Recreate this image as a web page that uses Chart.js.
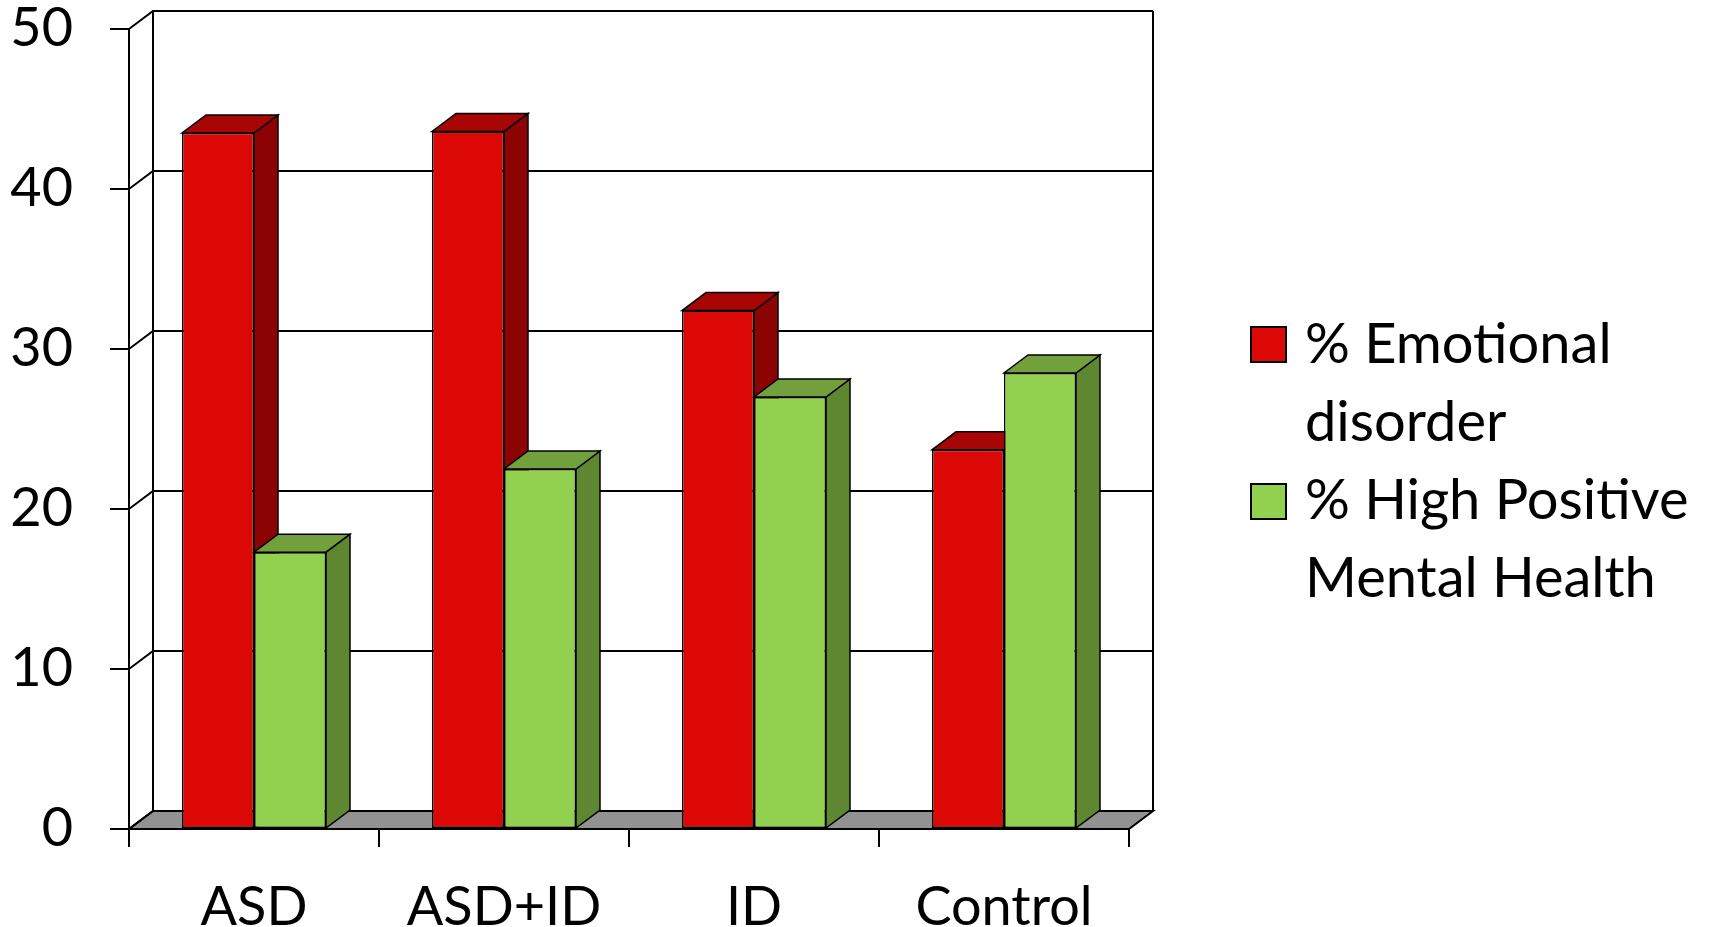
<!DOCTYPE html>
<html>
<head>
<meta charset="utf-8">
<script src="https://cdn.jsdelivr.net/npm/chart.js@4"></script>
<style>
  html, body { margin: 0; padding: 0; background: #fff; }
  #wrap { width: 1713px; height: 927px; }
</style>
</head>
<body>
<div id="wrap"><canvas id="chart" width="1713" height="927"></canvas></div>
<script>
const groups = ['ASD', 'ASD+ID', 'ID', 'Control'];
const emotional = [43.5, 43.6, 32.4, 23.7];
const positive = [17.3, 22.5, 27.0, 28.5];
const yTicks = [0, 10, 20, 30, 40, 50];
const legendLines = [['% Emotional', 'disorder'], ['% High Positive', 'Mental Health']];

const FONT = 'Lato, "DejaVu Sans", sans-serif';
const depthX = 24, depthY = 18;

const faces = [
  { front: '#DC0806', top: '#A80505', side: '#8C0303' },
  { front: '#92D050', top: '#71A03C', side: '#5F8732' }
];

// back wall, floor and the top/side faces of the columns
const threeD = {
  id: 'threeD',
  beforeDatasetsDraw(chart) {
    const ctx = chart.ctx;
    const a = chart.chartArea;
    const y = chart.scales.y;
    ctx.save();
    ctx.lineWidth = 2;
    ctx.strokeStyle = '#000';
    ctx.lineJoin = 'miter';

    // floor
    ctx.beginPath();
    ctx.moveTo(a.left, a.bottom);
    ctx.lineTo(a.right, a.bottom);
    ctx.lineTo(a.right + depthX, a.bottom - depthY);
    ctx.lineTo(a.left + depthX, a.bottom - depthY);
    ctx.closePath();
    ctx.fillStyle = '#929292';
    ctx.fill();
    ctx.stroke();

    // gridlines on back wall + diagonals on side wall
    yTicks.forEach(v => {
      const py = y.getPixelForValue(v);
      ctx.beginPath();
      ctx.moveTo(a.left, py);
      ctx.lineTo(a.left + depthX, py - depthY);
      ctx.lineTo(a.right + depthX, py - depthY);
      ctx.stroke();
    });
    ctx.beginPath();
    ctx.moveTo(a.left + depthX, a.bottom - depthY);
    ctx.lineTo(a.left + depthX, a.top - depthY);
    ctx.moveTo(a.right + depthX, a.bottom - depthY);
    ctx.lineTo(a.right + depthX, a.top - depthY);
    ctx.moveTo(a.left, a.bottom);
    ctx.lineTo(a.left, a.top);
    ctx.stroke();

    // column sides and tops
    ctx.lineWidth = 1.5;
    chart.data.datasets.forEach((ds, i) => {
      const meta = chart.getDatasetMeta(i);
      meta.data.forEach(bar => {
        const x0 = bar.x - bar.width / 2, x1 = bar.x + bar.width / 2;
        const top = bar.y, base = bar.base;
        ctx.beginPath();
        ctx.moveTo(x1, top);
        ctx.lineTo(x1 + depthX, top - depthY);
        ctx.lineTo(x1 + depthX, base - depthY);
        ctx.lineTo(x1, base);
        ctx.closePath();
        ctx.fillStyle = faces[i].side;
        ctx.fill();
        ctx.stroke();

        ctx.beginPath();
        ctx.moveTo(x0, top);
        ctx.lineTo(x1, top);
        ctx.lineTo(x1 + depthX, top - depthY);
        ctx.lineTo(x0 + depthX, top - depthY);
        ctx.closePath();
        ctx.fillStyle = faces[i].top;
        ctx.fill();
        ctx.stroke();
      });
    });
    ctx.restore();
  },
  afterDraw(chart) {
    const ctx = chart.ctx;
    ctx.save();
    ctx.font = '56px ' + FONT;
    ctx.fillStyle = '#000';
    ctx.textBaseline = 'alphabetic';
    ctx.textAlign = 'left';
    const boxY = [327, 484];
    const baseY = [363, 519];
    legendLines.forEach((lines, i) => {
      ctx.fillStyle = faces[i].front;
      ctx.fillRect(1251, boxY[i], 35, 35);
      ctx.lineWidth = 2;
      ctx.strokeStyle = '#000';
      ctx.strokeRect(1251, boxY[i], 35, 35);
      ctx.fillStyle = '#000';
      lines.forEach((t, j) => ctx.fillText(t, 1305, baseY[i] + j * 77.5));
    });
    ctx.restore();
  }
};

new Chart(document.getElementById('chart'), {
  type: 'bar',
  data: {
    labels: groups,
    datasets: [
      {
        label: legendLines[0].join(' '),
        data: emotional,
        backgroundColor: faces[0].front,
        borderColor: '#000',
        borderWidth: 1.5,
        borderSkipped: false
      },
      {
        label: legendLines[1].join(' '),
        data: positive,
        backgroundColor: faces[1].front,
        borderColor: '#000',
        borderWidth: 1.5,
        borderSkipped: false
      }
    ]
  },
  options: {
    responsive: false,
    animation: false,
    layout: { padding: { left: 0, right: 584, top: 29, bottom: 0 } },
    categoryPercentage: 0.576,
    barPercentage: 1,
    plugins: { legend: { display: false }, tooltip: { enabled: false } },
    scales: {
      x: {
        grid: { offset: true, drawOnChartArea: false, tickLength: 18, color: '#000', lineWidth: 2 },
        border: { color: '#000', width: 2 },
        ticks: { color: '#000', font: { family: FONT, size: 54 }, padding: 28, maxRotation: 0 },
        afterFit(s) { s.height = 98; s.paddingLeft = 0; s.paddingRight = 0; }
      },
      y: {
        min: 0,
        max: 50,
        ticks: { stepSize: 10, color: '#000', font: { family: FONT, size: 54 }, padding: 37 },
        grid: { drawOnChartArea: false, tickLength: 19, color: '#000', lineWidth: 2 },
        border: { color: '#000', width: 2 },
        afterFit(s) { s.width = 129; s.paddingTop = 0; s.paddingBottom = 0; }
      }
    }
  },
  plugins: [threeD]
});
</script>
</body>
</html>
